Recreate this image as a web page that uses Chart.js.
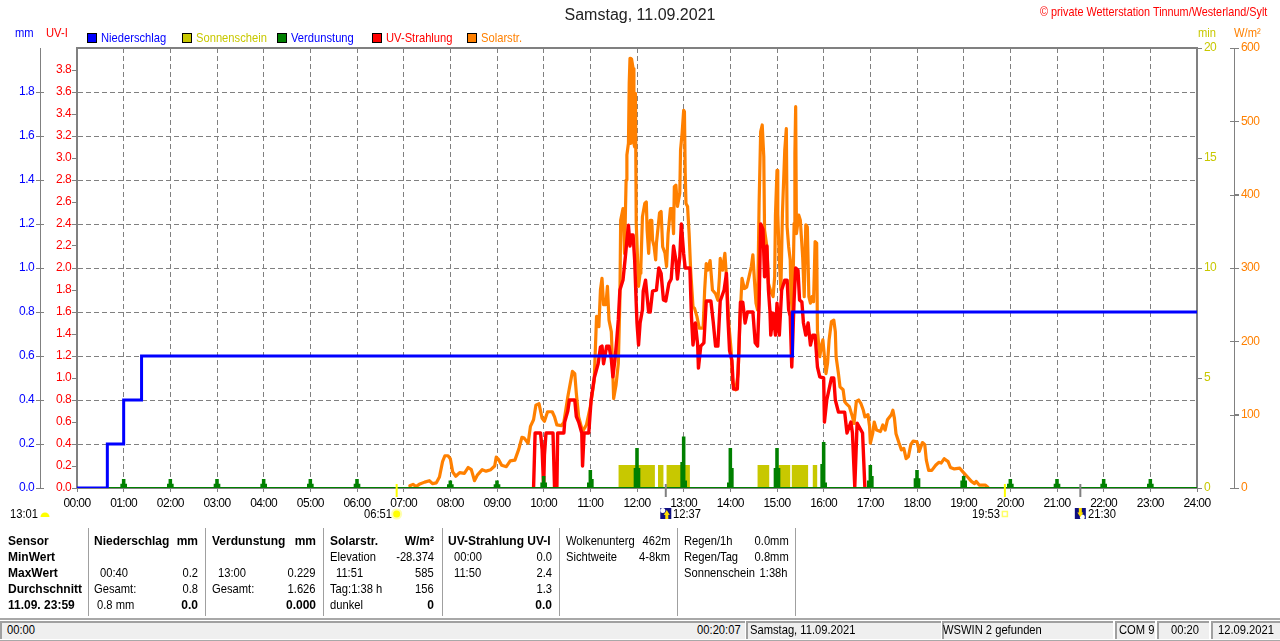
<!DOCTYPE html>
<html><head><meta charset="utf-8">
<script src="https://cdn.jsdelivr.net/npm/chart.js@4"></script>
<style>
html,body{margin:0;padding:0;background:#fff;width:1280px;height:641px;overflow:hidden}
canvas{position:absolute;left:0;top:0}
.t{position:absolute;font:13px "Liberation Sans",Arial,sans-serif;line-height:14px;white-space:nowrap;color:#000;transform:scaleX(.86);transform-origin:left center}
.t.rt{transform-origin:right center}
.t.b{font:bold 12px "Liberation Sans",Arial,sans-serif;line-height:14px;transform:none}
.box{position:absolute}
</style></head><body>
<canvas id="c" width="1280" height="641"></canvas>
<div id="ov"></div>
<script>
const rainTimes=[0,39,60,83,920,1440];
const rainValues=[0,0.2,0.4,0.6,0.8,0.8];
const sunTimes=[696,696,743,743,747,747,754,754,758,758,788,788,875,875,890,890,902,902,917,917,919,919,940,940,946,946,952,952];
const sunValues=[0,1.05,1.05,0,0,1.05,1.05,0,0,1.05,1.05,0,0,1.05,1.05,0,0,1.05,1.05,0,0,1.05,1.05,0,0,1.05,1.05,0];
const evapHours=[60,120,180,240,300,360,480,540,600,660,720,780,840,900,960,1020,1080,1140,1200,1260,1320,1380];
const evapPeak=[.036,.036,.036,.036,.036,.036,.03,.03,.05,.077,.177,.229,.177,.177,.205,.10,.077,.05,.036,.036,.036,.036];
const evapLeft=[.015,.015,.015,.015,.015,.015,.012,.012,.02,.02,.086,.114,.02,.086,.105,.03,.04,.03,.015,.015,.015,.015];
const evapRight=[.015,.015,.015,.015,.015,.015,.012,.012,.02,.036,.086,.03,.086,.086,.02,.05,.04,.03,.015,.015,.015,.015];
const solarTimes=[428,432,436,440,447,453,457,462,466,470,473,477,480,483,487,492,498,503,507,511,515,521,526,532,537,539,542,546,552,557,563,568,572,575,580,583,587,590,594,598,601,605,611,614,617,623,626,631,637,640,642,645,650,655,660,665,668,671,673,675,677,680,682,684,687,688,690,693,696,698,699,702,704,706,707,709,710,711,712,713,715,716,717,718,719,722,724,725,727,730,732,733,735,737,739,740,742,744,745,749,751,753,756,758,760,763,765,767,768,770,772,775,776,778,780,781,782,783,785,787,789,792,794,797,800,805,807,809,811,814,817,821,824,826,827,830,833,835,838,841,843,847,850,852,855,858,861,864,867,869,871,873,875,877,879,881,883,884,887,889,892,895,897,898,900,901,903,905,907,910,912,913,915,917,918,920,922,923,924,925,928,930,933,935,937,939,941,943,945,947,949,951,952,955,957,959,961,963,965,967,970,973,975,976,979,981,985,987,989,993,997,999,1002,1005,1008,1011,1013,1017,1019,1020,1023,1025,1028,1033,1036,1039,1042,1047,1049,1051,1053,1057,1060,1063,1066,1069,1072,1075,1080,1083,1087,1090,1092,1095,1099,1104,1108,1111,1115,1120,1123,1128,1135,1139,1145,1150,1154,1156,1160,1168,1171];
const solarValues=[3,5,2,5,8,10,6,7,15,36,44,44,40,22,16,21,20,28,25,10,18,25,23,25,30,42,39,31,29,37,38,53,69,68,61,84,93,113,115,95,91,104,104,97,86,85,90,124,159,156,129,97,77,86,111,147,234,220,270,286,250,250,275,229,213,184,122,140,170,256,365,381,320,420,454,470,552,586,470,585,572,470,465,538,361,275,293,302,370,388,390,352,320,365,365,338,329,311,334,375,377,329,320,302,347,381,381,347,411,413,384,402,461,484,515,513,429,388,384,347,297,247,245,234,218,218,270,306,297,310,270,265,256,288,313,297,320,288,224,188,143,134,156,220,286,272,274,288,302,318,283,252,243,388,486,495,452,352,329,279,268,261,288,372,433,374,311,270,375,461,490,356,329,311,261,238,361,456,520,347,372,365,315,261,359,356,261,252,261,254,336,334,215,179,193,202,179,156,170,202,227,229,213,179,156,138,134,118,115,111,97,88,118,120,115,106,97,100,84,61,74,90,79,77,86,79,93,100,106,95,74,61,52,54,40,43,59,64,63,50,62,59,38,24,24,31,35,34,40,36,28,26,27,22,15,9,6,9,4,4,1];
const uvTimes=[587,588,589,596,598,600,601,603,612,614,617,618,626,627,631,633,640,642,645,649,650,652,658,661,665,670,673,675,677,681,684,687,689,692,694,696,698,702,705,707,709,711,713,715,717,719,720,722,724,727,728,731,733,735,737,740,745,748,751,754,757,761,764,767,770,772,775,777,780,782,785,788,790,792,795,798,799,802,806,809,815,818,821,824,827,832,835,837,839,842,844,849,851,853,856,859,862,869,872,875,877,879,882,884,887,889,891,892,895,898,900,903,906,910,913,915,917,919,922,924,927,929,932,934,937,940,943,946,949,952,955,960,961,964,970,973,975,979,987,990,995,997,1000,1003,1010,1013];
const uvValues=[0,.25,.5,.5,.35,0,.3,.5,.5,0,0,.5,.5,.6,.7,.8,.8,.65,.6,.5,.2,.5,.5,.8,1,1.13,1.28,1.29,1.13,1.29,1.29,1.17,1.01,1.19,1.35,1.53,1.8,1.89,2.1,2.25,2.39,2.2,2.3,2.3,2.07,1.68,1.5,1.3,1.5,1.62,1.79,1.89,1.74,1.6,1.6,1.79,1.8,2,1.95,1.71,1.7,1.86,1.9,2.2,2.07,1.9,2.1,2.4,2.13,2,2,2,1.56,1.3,1.5,1.3,1.09,1.29,1.32,1.7,1.7,1.51,1.29,1.29,1.7,1.8,1.95,1.53,1.25,1.16,.9,.9,1.25,1.69,1.69,1.5,1.6,1.6,1.32,1.29,1.68,2.4,2.35,1.92,2.2,1.8,1.6,1.39,1.59,1.39,1.68,1.39,1.8,1.89,1.89,1.62,1.56,1.1,1.71,2,1.98,1.71,1.69,1.5,1.39,1.5,1.3,1.39,1.39,1.1,1.01,1,.6,.8,1,1,.8,.69,.69,.5,.6,.5,.01,.59,.5,0];
const sunriseMarks=[411,1193];
const moonMarks=[757,1290];

function xy(t,v){return t.map((m,i)=>({x:m,y:v[i]}));}
const evapPts=[{x:0,y:0}];
evapHours.forEach((h,i)=>{evapPts.push({x:h-3,y:0},{x:h-3,y:evapLeft[i]},{x:h-1,y:evapLeft[i]},{x:h-1,y:evapPeak[i]},{x:h+1,y:evapPeak[i]},{x:h+1,y:evapRight[i]},{x:h+3,y:evapRight[i]},{x:h+3,y:0});});
evapPts.push({x:1440,y:0});
const GR='#808080',F='"Liberation Sans",Arial,sans-serif',OL='#c8c800',OR='#ff8000',TS='-0.6px';
const line={pointRadius:0,tension:0,borderJoinStyle:'round',borderCapStyle:'round'};
function hhmm(m){const h=Math.round(m/60);return (h<10?'0':'')+h+':00';}
function fixW(w){return s=>{s.width=w;};}

const deco={id:'deco',
 beforeDraw(ch){
  const c=ch.ctx,tb=ch.titleBlock;
  if(tb&&!tb._wrapped){const d=tb.draw;tb.draw=function(a){c.letterSpacing='0px';d.call(this,a);c.letterSpacing=TS;};tb._wrapped=true;}
  c.letterSpacing=TS;
 },
 afterDatasetsDraw(ch){
 const c=ch.ctx,a=ch.chartArea,x=ch.scales.x;
 c.save();
 c.strokeStyle=GR;c.lineWidth=2;
 c.beginPath();c.moveTo(a.left-1,a.top);c.lineTo(a.right+1,a.top);c.stroke();
 c.lineWidth=1;
 [['yMm',36,44],['yW',1230,1239]].forEach(([id,p,q])=>{const s=ch.scales[id];s.ticks.forEach((t,i)=>{if(id==='yMm'&&t.value>1.9)return;const y=Math.round(s.getPixelForTick(i))+.5;c.beginPath();c.moveTo(p,y);c.lineTo(q,y);c.stroke();});});
 c.lineWidth=2;
 sunriseMarks.forEach(m=>{const p=x.getPixelForValue(m);c.strokeStyle='#ffff00';c.beginPath();c.moveTo(p,484);c.lineTo(p,497);c.stroke();});
 moonMarks.forEach(m=>{const p=x.getPixelForValue(m);c.strokeStyle=GR;c.beginPath();c.moveTo(p,484);c.lineTo(p,497);c.stroke();});
 let p=x.getPixelForValue(sunriseMarks[0]);
 c.fillStyle='#ffffb0';c.beginPath();c.arc(p,514,5.5,0,7);c.fill();
 c.fillStyle='#ffff00';c.beginPath();c.arc(p,514,3.5,0,7);c.fill();
 p=x.getPixelForValue(sunriseMarks[1]);
 c.strokeStyle='#ffff66';c.lineWidth=1.5;c.strokeRect(p-2.5,511.5,5,5);
 c.fillStyle='#ffff00';c.beginPath();c.arc(45,517,4.5,Math.PI,0);c.fill();
 moonMarks.forEach((m,i)=>{p=x.getPixelForValue(m);
  c.fillStyle='#101080';c.fillRect(p-5.5,508,11,11);
  const up=i===0;
  c.fillStyle='#ffffff';c.beginPath();c.arc(p+(up?-3:2),up?510.5:517,2.5,0,7);c.fill();
  c.fillStyle='#ffe000';c.beginPath();
  if(up){c.moveTo(p+1,510);c.lineTo(p+4,515);c.lineTo(p+2.5,515);c.lineTo(p+2.5,519);c.lineTo(p-.5,519);c.lineTo(p-.5,515);c.lineTo(p-2,515);}
  else{c.moveTo(p,517);c.lineTo(p-3,512.5);c.lineTo(p-1.5,512.5);c.lineTo(p-1.5,508);c.lineTo(p+1.5,508);c.lineTo(p+1.5,512.5);c.lineTo(p+3,512.5);}
  c.closePath();c.fill();});
 c.restore();
}};
const noTop=lim=>(ctx=>ctx.tick&&ctx.tick.value>lim?'rgba(0,0,0,0)':GR);

new Chart(document.getElementById('c'),{
 type:'line',
 data:{datasets:[
  {label:'Niederschlag',data:xy(rainTimes,rainValues),yAxisID:'yMm',borderColor:'#0000ff',backgroundColor:'#0000ff',borderWidth:3,stepped:'before',order:0,...line,borderJoinStyle:'miter'},
  {label:'Sonnenschein',data:xy(sunTimes,sunValues),yAxisID:'yMin',borderWidth:0,borderColor:OL,backgroundColor:OL,fill:'origin',order:5,...line},
  {label:'Verdunstung',data:evapPts,yAxisID:'yMm',borderColor:'#008000',backgroundColor:'#008000',borderWidth:2,fill:'origin',order:1,...line,borderJoinStyle:'miter'},
  {label:'UV-Strahlung',data:xy(uvTimes,uvValues),yAxisID:'yUv',borderColor:'#ff0000',backgroundColor:'#ff0000',borderWidth:3.4,order:2,...line},
  {label:'Solarstr.',data:xy(solarTimes,solarValues),yAxisID:'yW',borderColor:OR,backgroundColor:OR,borderWidth:3.2,order:3,...line}
 ]},
 options:{
  responsive:false,animation:false,devicePixelRatio:1,parsing:true,normalized:true,
  layout:{padding:{top:0,left:0,right:0,bottom:123}},
  plugins:{
   legend:{display:false},tooltip:{enabled:false},
   title:{display:true,text:'Samstag, 11.09.2021',color:'#222',font:{family:F,size:16,weight:'normal',lineHeight:1.2},padding:{top:6,bottom:22.8}}
  },
  scales:{
   x:{type:'linear',min:0,max:1440,position:'bottom',afterFit:s=>{s.height=30;},
    afterBuildTicks:s=>{s.ticks=[];for(let m=0;m<=1440;m+=60)s.ticks.push({value:m});},
    ticks:{autoSkip:false,maxRotation:0,font:{family:F,size:12},color:'#000',padding:4,callback:v=>hhmm(v)},
    grid:{color:GR,lineWidth:1,tickLength:4,tickColor:GR,tickBorderDash:[]},
    border:{display:true,color:GR,width:2,dash:[5,3]}},
   yMm:{position:'left',weight:2,min:0,max:2,afterFit:fixW(40),
    ticks:{stepSize:.2,color:'#0000ff',font:{family:F,size:12},padding:2,callback:v=>v>1.9?'':v.toFixed(1)},
    grid:{drawOnChartArea:true,color:GR,lineWidth:1,tickLength:4,tickColor:noTop(1.9),tickBorderDash:[]},
    border:{display:true,color:GR,width:1,dash:[5,3]}},
   yUv:{position:'left',weight:1,min:0,max:4,afterFit:fixW(37),
    ticks:{stepSize:.2,autoSkip:false,color:'#ff0000',font:{family:F,size:12},padding:1,callback:v=>v>3.9?'':v.toFixed(1)},
    grid:{drawOnChartArea:false,color:GR,tickLength:5,tickColor:noTop(3.9)},
    border:{display:true,color:GR,width:2}},
   yMin:{position:'right',weight:1,min:0,max:20,afterFit:fixW(37),
    ticks:{stepSize:5,color:OL,font:{family:F,size:12},padding:2,callback:v=>String(v)},
    grid:{drawOnChartArea:false,color:GR,tickLength:5},
    border:{display:true,color:GR,width:2}},
   yW:{position:'right',weight:2,min:0,max:600,afterFit:fixW(46),
    ticks:{stepSize:100,color:OR,font:{family:F,size:12},padding:2,callback:v=>String(v)},
    grid:{drawOnChartArea:false,color:GR,tickLength:5},
    border:{display:true,color:GR,width:1}}
  }
 },
 plugins:[deco]
});

const ov=document.getElementById('ov');
function T(s,x,y,o={}){const d=document.createElement('div');d.className='t'+(o.b?' b':'')+(o.r!==undefined?' rt':'');
 d.innerHTML=s;d.style.top=(y-7)+'px';
 if(o.r!==undefined){d.style.right=(1280-o.r)+'px';}else d.style.left=x+'px';
 if(o.c)d.style.color=o.c;if(o.s)d.style.fontSize=o.s+'px';ov.appendChild(d);}
function B(x,y,w,h,bg,extra){const d=document.createElement('div');d.className='box';d.style.cssText+=`left:${x}px;top:${y}px;width:${w}px;height:${h}px;background:${bg};${extra||''}`;ov.appendChild(d);}

T('© private Wetterstation Tinnum/Westerland/Sylt',1040,12,{c:'#ff0000',s:12.6});
T('mm',15,33,{c:'#0000ff'});T('UV-I',46,33,{c:'#ff0000'});
T('min',1198,33,{c:OL});T('W/m²',1234,33,{c:OR});
const legendNames=['Niederschlag','Sonnenschein','Verdunstung','UV-Strahlung','Solarstr.'];
const legendFill=['#0000ff',OL,'#008000','#ff0000',OR];
const legendText=['#0000ff',OL,'#0000ff','#ff0000',OR];
legendNames.forEach((n,i)=>{const x=87+95*i;B(x,33,8,8,legendFill[i],'border:1px solid #000');T(n,x+14,38,{c:legendText[i]});});
T('13:01',10,514);T('06:51',364,514);T('12:37',673,514);T('19:53',972,514);T('21:30',1088,514);

[88,205,323,442,559,677,795].forEach(x=>B(x,528,1,88,'#a0a0a0'));
const rowY=[541,557,573,589,605];
['Sensor','MinWert','MaxWert','Durchschnitt','11.09. 23:59'].forEach((s,i)=>T(s,8,rowY[i],{b:1}));
T('Niederschlag',94,rowY[0],{b:1});T('mm',0,rowY[0],{b:1,r:198});
T('00:40',100,rowY[2]);T('0.2',0,rowY[2],{r:198});T('Gesamt:',94,rowY[3]);T('0.8',0,rowY[3],{r:198});T('0.8 mm',97,rowY[4]);T('0.0',0,rowY[4],{b:1,r:198});
T('Verdunstung',212,rowY[0],{b:1});T('mm',0,rowY[0],{b:1,r:316});
T('13:00',218,rowY[2]);T('0.229',0,rowY[2],{r:316});T('Gesamt:',212,rowY[3]);T('1.626',0,rowY[3],{r:316});T('0.000',0,rowY[4],{b:1,r:316});
T('Solarstr.',330,rowY[0],{b:1});T('W/m²',0,rowY[0],{b:1,r:434});
T('Elevation',330,rowY[1]);T('-28.374',0,rowY[1],{r:434});T('11:51',336,rowY[2]);T('585',0,rowY[2],{r:434});T('Tag:1:38 h',330,rowY[3]);T('156',0,rowY[3],{r:434});T('dunkel',330,rowY[4]);T('0',0,rowY[4],{b:1,r:434});
T('UV-Strahlung UV-I',448,rowY[0],{b:1});
T('00:00',454,rowY[1]);T('0.0',0,rowY[1],{r:552});T('11:50',454,rowY[2]);T('2.4',0,rowY[2],{r:552});T('1.3',0,rowY[3],{r:552});T('0.0',0,rowY[4],{b:1,r:552});
T('Wolkenunterg',566,rowY[0]);T('462m',0,rowY[0],{r:671});T('Sichtweite',566,rowY[1]);T('4-8km',0,rowY[1],{r:670});
T('Regen/1h',684,rowY[0]);T('0.0mm',0,rowY[0],{r:789});T('Regen/Tag',684,rowY[1]);T('0.8mm',0,rowY[1],{r:789});T('Sonnenschein',684,rowY[2]);T('1:38h',0,rowY[2],{r:788});

B(0,618,1280,2,'#a8a8a8');B(0,640,1280,1,'#a8a8a8');
[[0,745],[746,195],[942,171],[1115,40],[1157,52],[1211,69]].forEach(([x,w])=>B(x,621,w-2,16,'#efefef','border-top:2px solid #a0a0a0;border-left:2px solid #a0a0a0'));
T('00:00',7,630);T('00:20:07',0,630,{r:741});T('Samstag, 11.09.2021',750,630);T('WSWIN 2 gefunden',943,630);T('COM 9',1119,630);T('00:20',1171,630);T('12.09.2021',1218,630);
</script>
</body></html>
